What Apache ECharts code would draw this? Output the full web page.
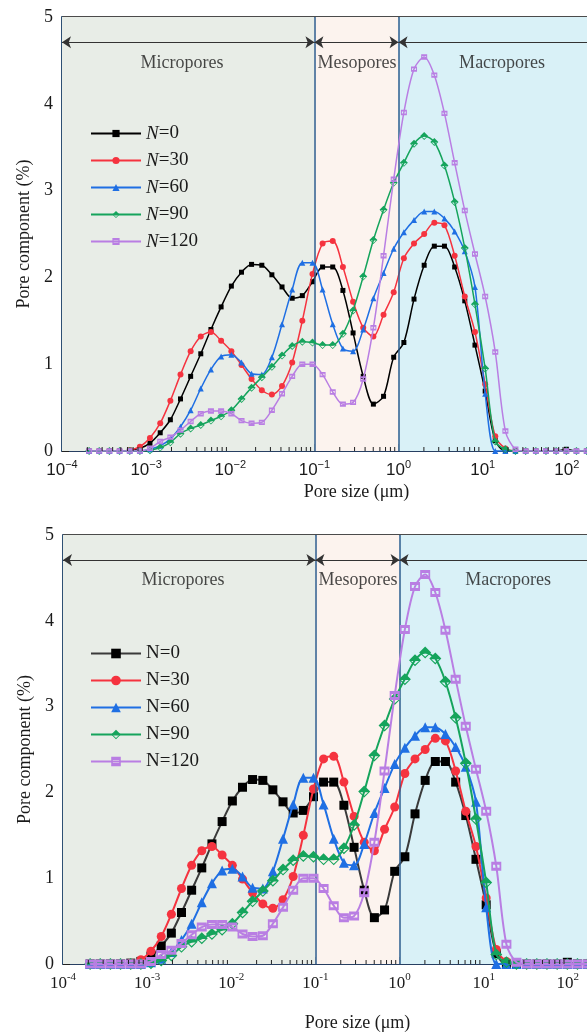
<!DOCTYPE html>
<html>
<head>
<meta charset="utf-8">
<script src="https://cdn.jsdelivr.net/npm/echarts@6/dist/echarts.min.js"></script>
<style>
  html, body { margin: 0; padding: 0; background: #ffffff; overflow: hidden; width: 587px; height: 1033px; }
  #chart { width: 680px; height: 1033px; }
</style>
</head>
<body>
<div id="chart"></div>
<script>
// Pore size classes (µm) shared by every curve
const poreSize = [0.000210, 0.000277, 0.000366, 0.000483, 0.000638, 0.000843, 0.00111, 0.00147, 0.00194, 0.00256,
  0.00338, 0.00446, 0.00589, 0.00778, 0.0103, 0.0136, 0.0179, 0.0237, 0.0312, 0.0412,
  0.0544, 0.0718, 0.0948, 0.125, 0.165, 0.218, 0.288, 0.380, 0.502, 0.663,
  0.875, 1.156, 1.526, 2.015, 2.66, 3.51, 4.64, 6.12, 8.09, 10.7,
  14.1, 18.6, 24.5, 32.4, 42.8, 56.5, 74.6, 98.6, 130, 172,
  227, 300, 395, 522, 690, 910];

// Pore component (%) after N freeze-thaw cycles
const n0 = [0, 0, 0, 0, 0.01, 0.03, 0.09, 0.21, 0.36, 0.60,
  0.86, 1.12, 1.40, 1.66, 1.90, 2.06, 2.15, 2.14, 2.03, 1.89,
  1.76, 1.79, 1.95, 2.12, 2.12, 1.85, 1.36, 0.86, 0.54, 0.63,
  1.08, 1.25, 1.75, 2.14, 2.36, 2.36, 2.12, 1.73, 1.22, 0.69,
  0.12, 0, 0, 0, 0, 0, 0, 0.02, 0, 0,
  0, 0, 0, 0, 0, 0];
const n30 = [0, 0, 0, 0, 0.01, 0.05, 0.15, 0.32, 0.58, 0.88,
  1.15, 1.32, 1.37, 1.27, 1.15, 0.99, 0.83, 0.70, 0.65, 0.75,
  1.02, 1.50, 2.04, 2.39, 2.42, 2.12, 1.72, 1.42, 1.32, 1.57,
  1.83, 2.22, 2.39, 2.50, 2.63, 2.60, 2.25, 1.78, 1.37, 0.77,
  0.17, 0.03, 0, 0, 0, 0, 0, 0, 0, 0,
  0.02, 0, 0, 0, 0.02, 0.03];
const n60 = [0, 0, 0, 0, 0, 0, 0.02, 0.06, 0.14, 0.28,
  0.47, 0.72, 0.94, 1.09, 1.11, 1.02, 0.89, 0.88, 1.08, 1.46,
  1.86, 2.17, 2.17, 1.86, 1.46, 1.18, 1.15, 1.40, 1.76, 2.05,
  2.33, 2.52, 2.66, 2.76, 2.76, 2.68, 2.53, 2.30, 1.89, 0.66,
  0, 0, 0, 0, 0, 0, 0, 0, 0, 0,
  0, 0, 0, 0, 0, 0];
const n90 = [0, 0, 0, 0, 0, 0, 0.01, 0.04, 0.10, 0.20,
  0.26, 0.30, 0.35, 0.40, 0.47, 0.60, 0.73, 0.85, 0.97, 1.10,
  1.21, 1.26, 1.25, 1.22, 1.22, 1.35, 1.62, 2.01, 2.43, 2.78,
  3.09, 3.32, 3.54, 3.63, 3.56, 3.29, 2.87, 2.34, 1.69, 0.95,
  0.11, 0.02, 0, 0, 0, 0, 0, 0, 0, 0,
  0, 0, 0, 0, 0, 0];
const n120 = [0, 0, 0, 0, 0, 0, 0.03, 0.11, 0.16, 0.24,
  0.34, 0.43, 0.46, 0.46, 0.43, 0.35, 0.32, 0.33, 0.47, 0.66,
  0.86, 1.00, 1.00, 0.88, 0.68, 0.54, 0.56, 0.83, 1.42, 2.25,
  3.13, 3.90, 4.40, 4.54, 4.33, 3.89, 3.32, 2.77, 2.27, 1.78,
  1.14, 0.23, 0.02, 0, 0, 0, 0, 0, 0, 0,
  0, 0, 0, 0, 0, 0];

const cycleLabels = ['0', '30', '60', '90', '120'];
const curves = [n0, n30, n60, n90, n120];
const regionNames = ['Micropores', 'Mesopores', 'Macropores'];
const regionBounds = [0.0001, 0.1, 1, 1000];
const xAxisTitle = 'Pore size (\u03bcm)';
const yAxisTitle = 'Pore component (%)';

const serif = "'Liberation Serif', 'Times New Roman', serif";
const sans = "'Liberation Sans', Arial, sans-serif";
const colors = ['#000000', '#f5333f', '#1f6fe3', '#15a45c', '#b97ee3'];
const regionColors = ['#e8ede7', '#fcf3ee', '#d9f1f7'];

// marker shapes: diamond with a filled upper half, square with a white slit
const halfDiamond = 'path://M0,10 L10,0 L20,10 Z M0,10 L10,20 L20,10 Z M16.6,11.3 L10,17.2 L3.4,11.3 Z';
const slitSquare = 'path://M0,0 L20,0 L20,18 L0,18 Z M3.5,6 L3.5,12 L16.5,12 L16.5,6 Z';

// minor ticks of the logarithmic axis: 2..9 times each decade
const minorTicks = [];
for (let e = -4; e < 3; e++) {
  for (let m = 2; m <= 9; m++) minorTicks.push([m * Math.pow(10, e), 0]);
}

// two panels: italic legend with small markers, upright legend with large markers
const panels = [
  { top: 17, left: 62, italic: true, tickFont: sans, minus: '\u2212', lineW: 1.5,
    sizes: [5, 6, 6, 8, 6], legendTop: 119, nameGapX: 32, lastColor: '#000000' },
  { top: 535, left: 63, italic: false, tickFont: serif, minus: '-', lineW: 2,
    sizes: [9, 9, 10, 12, 10], legendTop: 639, nameGapX: 50, lastColor: '#3a3a3a' }
];

const grids = [], xAxes = [], yAxes = [], legends = [], series = [];

panels.forEach((p, pi) => {
  grids.push({ left: p.left, top: p.top, width: 589, height: 434, show: true,
    borderColor: '#111111', borderWidth: 1.3, backgroundColor: 'transparent' });

  xAxes.push({
    type: 'log', logBase: 10, gridIndex: pi, min: 0.0001, max: 1000, splitNumber: 7,
    name: xAxisTitle, nameLocation: 'middle', nameGap: p.nameGapX,
    nameTextStyle: { fontFamily: serif, fontSize: 18, color: '#1a1a1a' },
    axisLine: { show: true, lineStyle: { color: '#1d3d6b', width: 1.5 } },
    axisTick: { show: true, inside: true, length: 7, lineStyle: { color: '#222', width: 1 } },
    splitLine: { show: false },
    axisLabel: {
      margin: 8, showMinLabel: true,
      formatter: v => {
        const e = Math.round(Math.log10(v));
        const s = e < 0 ? p.minus + (-e) : String(e);
        return '{b|10}{s|' + s + '}';
      },
      rich: {
        b: { fontFamily: p.tickFont, fontSize: 17, color: '#1a1a1a' },
        s: { fontFamily: p.tickFont, fontSize: 11, color: '#1a1a1a', padding: [0, 0, 12, 0] }
      }
    }
  });

  yAxes.push({
    type: 'value', gridIndex: pi, min: 0, max: 5, interval: 1,
    name: yAxisTitle, nameLocation: 'middle', nameGap: 27, nameRotate: 90,
    nameTextStyle: { fontFamily: serif, fontSize: 18, color: '#1a1a1a' },
    axisLine: { show: true, lineStyle: { color: '#1d4a7a', width: 1.5 } },
    axisTick: { show: true, inside: true, length: 7, lineStyle: { color: '#222' } },
    minorTick: { show: true, splitNumber: 2, length: 4, lineStyle: { color: '#222' } },
    splitLine: { show: false },
    axisLabel: { fontFamily: serif, fontSize: 18, color: '#1a1a1a', margin: 9 }
  });

  const ids = cycleLabels.map(c => 'p' + pi + '-' + c);
  legends.push({
    orient: 'vertical', left: 85, top: p.legendTop, itemWidth: 50, itemHeight: pi ? 12 : 9,
    itemGap: 8, data: ids, selectedMode: false,
    formatter: name => {
      const c = name.split('-')[1];
      return p.italic ? '{i|N}=' + c : 'N=' + c;
    },
    textStyle: { fontFamily: serif, fontSize: 19, color: '#1a1a1a',
      rich: { i: { fontFamily: serif, fontSize: 19, fontStyle: 'italic', color: '#1a1a1a' } } }
  });

  // shaded pore-size classes and their boundaries
  series.push({
    type: 'line', xAxisIndex: pi, yAxisIndex: pi, data: [], silent: true, z: 1,
    markArea: {
      silent: true,
      data: regionColors.map((c, i) => [
        { coord: [regionBounds[i], 0], itemStyle: { color: c } },
        { coord: [regionBounds[i + 1], 5] }
      ])
    },
    markLine: {
      silent: true, symbol: 'none', label: { show: false },
      lineStyle: { color: '#2c5d8e', width: 1.5, type: 'solid' },
      data: [{ xAxis: 0.1 }, { xAxis: 1 }]
    }
  });

  // double-headed range arrows
  series.push({
    type: 'line', xAxisIndex: pi, yAxisIndex: pi, data: [], silent: true, z: 2,
    markLine: {
      silent: true, symbol: ['arrow', 'arrow'], symbolSize: 9, label: { show: false },
      lineStyle: { color: '#333333', width: 1, type: 'solid' },
      data: [
        [{ coord: [regionBounds[0], 4.71] }, { coord: [regionBounds[1], 4.71] }],
        [{ coord: [regionBounds[1], 4.71] }, { coord: [regionBounds[2], 4.71] }],
        [{ coord: [regionBounds[2], 4.71] }, { coord: [230, 4.71] }]
      ]
    }
  });

  // class names
  series.push({
    type: 'scatter', xAxisIndex: pi, yAxisIndex: pi, silent: true, z: 2,
    symbolSize: 1, itemStyle: { color: 'rgba(0,0,0,0)' },
    label: { show: true, position: 'inside', formatter: '{b}',
      fontFamily: serif, fontSize: 18, color: '#1a1a1a' },
    data: [
      { name: regionNames[0], value: [0.00267, 4.47] },
      { name: regionNames[1], value: [0.32, 4.47] },
      { name: regionNames[2], value: [pi ? 19.5 : 17, 4.47] }
    ]
  });

  // minor x ticks
  series.push({
    type: 'custom', xAxisIndex: pi, yAxisIndex: pi, silent: true, z: 12, clip: false,
    data: minorTicks,
    renderItem: (params, api) => {
      const pt = api.coord([api.value(0), 0]);
      return { type: 'line', shape: { x1: pt[0], y1: pt[1], x2: pt[0], y2: pt[1] - 4 },
        style: { stroke: '#222', lineWidth: 1 } };
    }
  });

  const symbols = ['rect', 'circle', 'triangle', halfDiamond, slitSquare];
  curves.forEach((vals, i) => {
    const col = i === 0 ? p.lastColor : colors[i];
    const s = p.sizes[i];
    const size = i === 4 ? [s, s * 0.9] : s;
    const pts = poreSize.map((x, k) => [x, vals[k]]);
    series.push({
      type: 'line', name: ids[i], xAxisIndex: pi, yAxisIndex: pi, data: pts,
      smooth: 0.3, symbol: symbols[i], symbolSize: size, showAllSymbol: true, z: 3 + i,
      lineStyle: { color: col, width: p.lineW },
      itemStyle: { color: colors[i], borderWidth: 0 },
      emphasis: { disabled: true }
    });
  });
});

const chart = echarts.init(document.getElementById('chart'), null, { renderer: 'canvas' });
chart.setOption({
  animation: false,
  backgroundColor: '#ffffff',
  grid: grids, xAxis: xAxes, yAxis: yAxes, legend: legends, series: series
});
</script>
</body>
</html>
